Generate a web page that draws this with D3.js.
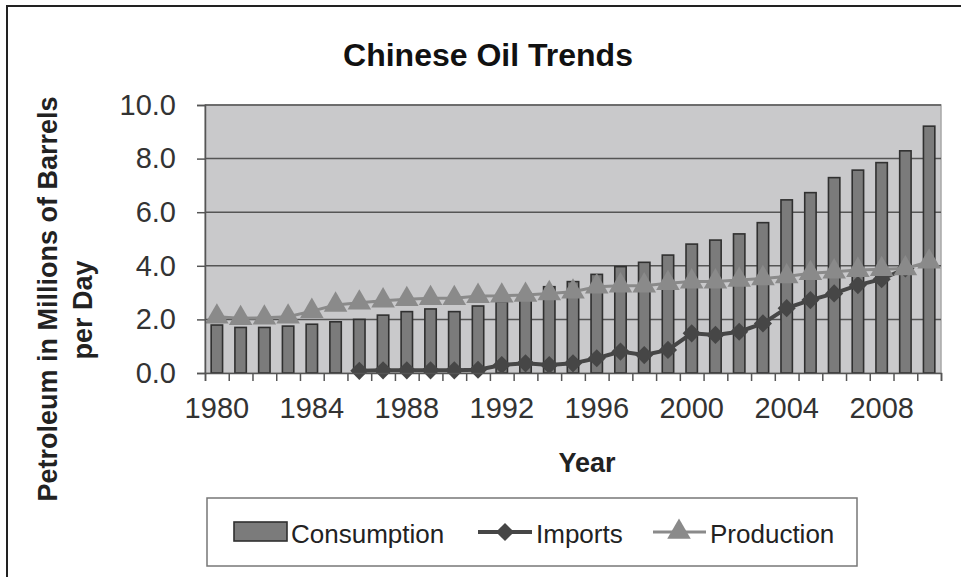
<!DOCTYPE html>
<html>
<head>
<meta charset="utf-8">
<script src="https://cdn.jsdelivr.net/npm/d3@7"></script>
<style>
body { margin: 0; background: #fff; }
text { font-family: "Liberation Sans", Arial, sans-serif; }
</style>
</head>
<body>
<div id="chartArea"></div>
<script>
// data (millions of barrels per day)
const years = d3.range(1980, 2011);
const consumption = [1.79, 1.70, 1.70, 1.75, 1.82, 1.91, 2.00, 2.16, 2.29, 2.39,
  2.29, 2.50, 2.66, 2.97, 3.22, 3.41, 3.68, 3.97, 4.13, 4.40,
  4.81, 4.96, 5.19, 5.61, 6.46, 6.73, 7.29, 7.57, 7.85, 8.29, 9.21];
const production = [2.10, 2.04, 2.06, 2.10, 2.31, 2.54, 2.62, 2.70, 2.75, 2.79,
  2.79, 2.87, 2.88, 2.91, 2.97, 3.03, 3.22, 3.26, 3.26, 3.35,
  3.41, 3.41, 3.47, 3.53, 3.60, 3.72, 3.78, 3.84, 3.87, 3.90, 4.15];
// imports start in 1986 and stop in 2009
const importYears = d3.range(1986, 2010);
const imports = [0.08, 0.10, 0.10, 0.10, 0.10, 0.12, 0.30, 0.36, 0.30, 0.36,
  0.55, 0.80, 0.67, 0.86, 1.48, 1.42, 1.54, 1.85, 2.42, 2.72,
  2.97, 3.28, 3.50, 3.90];
const yTicks = [0, 2, 4, 6, 8, 10];
const xLabelYears = [1980, 1984, 1988, 1992, 1996, 2000, 2004, 2008];

const W = 961, H = 577;
const plot = { left: 205, right: 941, top: 105, bottom: 373 };

const svg = d3.select("#chartArea")
  .append("svg")
  .attr("width", W)
  .attr("height", H);

// outer frame (top and left only)
svg.append("path")
  .attr("d", `M7,${H} V6 H${W}`)
  .attr("fill", "none")
  .attr("stroke", "#222")
  .attr("stroke-width", 2);

const x = d3.scaleBand()
  .domain(years)
  .range([plot.left, plot.right])
  .padding(0);

const xEdge = d3.scaleLinear()
  .domain([0, years.length])
  .range([plot.left, plot.right]);

const y = d3.scaleLinear()
  .domain([0, 10])
  .range([plot.bottom, plot.top]);

// plot background
svg.append("rect")
  .attr("x", plot.left)
  .attr("y", plot.top)
  .attr("width", plot.right - plot.left)
  .attr("height", plot.bottom - plot.top)
  .attr("fill", "#c9c9cb")
  .attr("stroke", "#a8a8a8")
  .attr("stroke-width", 1.5);

// gridlines
svg.append("g")
  .selectAll("line")
  .data(yTicks.filter(d => d > 0))
  .enter()
  .append("line")
  .attr("x1", plot.left)
  .attr("x2", plot.right)
  .attr("y1", d => y(d))
  .attr("y2", d => y(d))
  .attr("stroke", "#555")
  .attr("stroke-width", 1.5);

// consumption bars
const barW = x.bandwidth() * 0.48;
svg.append("g")
  .selectAll("rect")
  .data(years)
  .enter()
  .append("rect")
  .attr("x", (d) => x(d) + (x.bandwidth() - barW) / 2)
  .attr("y", (d, i) => y(consumption[i]))
  .attr("width", barW)
  .attr("height", (d, i) => y(0) - y(consumption[i]))
  .attr("fill", "#7b7b7b")
  .attr("stroke", "#303030")
  .attr("stroke-width", 1.6);

const cx = d => x(d) + x.bandwidth() / 2;
const diamond = d3.symbol().type(d3.symbolSquare).size(165);
const triangle = d3.symbol().type(d3.symbolTriangle).size(240);

// imports line
const impData = importYears.map((yr, i) => ({ yr, v: imports[i] }));
svg.append("path")
  .datum(impData)
  .attr("fill", "none")
  .attr("stroke", "#464646")
  .attr("stroke-width", 4)
  .attr("d", d3.line().x(d => cx(d.yr)).y(d => y(d.v)));

svg.append("g")
  .selectAll("path")
  .data(impData)
  .enter()
  .append("path")
  .attr("transform", d => `translate(${cx(d.yr)},${y(d.v)}) rotate(45)`)
  .attr("d", diamond)
  .attr("fill", "#464646");

// production line
const prodData = years.map((yr, i) => ({ yr, v: production[i] }));
svg.append("path")
  .datum(prodData)
  .attr("fill", "none")
  .attr("stroke", "#8a8a8a")
  .attr("stroke-width", 3)
  .attr("d", d3.line().x(d => cx(d.yr)).y(d => y(d.v)));

svg.append("g")
  .selectAll("path")
  .data(prodData)
  .enter()
  .append("path")
  .attr("transform", d => `translate(${cx(d.yr)},${y(d.v)})`)
  .attr("d", triangle)
  .attr("fill", "#8a8a8a");

// axes
const yAxis = svg.append("g")
  .attr("transform", `translate(${plot.left},0)`)
  .call(d3.axisLeft(y).tickValues(yTicks).tickFormat(d3.format(".1f")).tickSize(8).tickPadding(21));
yAxis.select(".domain").attr("stroke", "#555").attr("stroke-width", 1.5);
yAxis.selectAll(".tick line").attr("stroke", "#555").attr("stroke-width", 1.5);
yAxis.selectAll("text").style("font-size", "29px").attr("fill", "#333");

const xTicks = svg.append("g")
  .attr("transform", `translate(0,${plot.bottom})`)
  .call(d3.axisBottom(xEdge).tickValues(d3.range(years.length + 1)).tickFormat("").tickSize(8));
xTicks.select(".domain").attr("stroke", "#555").attr("stroke-width", 1.5);
xTicks.selectAll(".tick line").attr("stroke", "#555").attr("stroke-width", 1.5);

const xLabels = svg.append("g")
  .attr("transform", `translate(0,${plot.bottom})`)
  .call(d3.axisBottom(x).tickValues(xLabelYears).tickSize(0).tickPadding(24));
xLabels.select(".domain").remove();
xLabels.selectAll("text").style("font-size", "29px").attr("fill", "#333");

// titles
svg.append("text")
  .attr("x", 488)
  .attr("y", 66)
  .attr("text-anchor", "middle")
  .style("font-size", "32px")
  .style("font-weight", "bold")
  .attr("fill", "#111")
  .text("Chinese Oil Trends");

svg.append("text")
  .attr("x", 587)
  .attr("y", 472)
  .attr("text-anchor", "middle")
  .style("font-size", "27px")
  .style("font-weight", "bold")
  .attr("fill", "#222")
  .text("Year");

const yTitle = svg.append("text")
  .attr("text-anchor", "middle")
  .attr("transform", "rotate(-90)")
  .style("font-size", "27px")
  .style("font-weight", "bold")
  .attr("fill", "#222");
yTitle.append("tspan").attr("x", -299).attr("y", 57).text("Petroleum in Millions of Barrels");
yTitle.append("tspan").attr("x", -310).attr("y", 92).text("per Day");

// legend
const legend = svg.append("g");
legend.append("rect")
  .attr("x", 207).attr("y", 498)
  .attr("width", 650).attr("height", 68)
  .attr("fill", "#fff")
  .attr("stroke", "#777")
  .attr("stroke-width", 1.5);

legend.append("rect")
  .attr("x", 234).attr("y", 522)
  .attr("width", 53).attr("height", 19)
  .attr("fill", "#7b7b7b")
  .attr("stroke", "#303030")
  .attr("stroke-width", 1.6);
legend.append("text").attr("x", 291).attr("y", 543)
  .style("font-size", "26px").attr("fill", "#222").text("Consumption");

legend.append("line")
  .attr("x1", 478).attr("x2", 532).attr("y1", 532).attr("y2", 532)
  .attr("stroke", "#464646").attr("stroke-width", 4);
legend.append("path")
  .attr("transform", "translate(505,532) rotate(45)")
  .attr("d", diamond)
  .attr("fill", "#464646");
legend.append("text").attr("x", 536).attr("y", 543)
  .style("font-size", "26px").attr("fill", "#222").text("Imports");

legend.append("line")
  .attr("x1", 653).attr("x2", 706).attr("y1", 532).attr("y2", 532)
  .attr("stroke", "#8a8a8a").attr("stroke-width", 3);
legend.append("path")
  .attr("transform", "translate(679,532)")
  .attr("d", triangle)
  .attr("fill", "#8a8a8a");
legend.append("text").attr("x", 710).attr("y", 543)
  .style("font-size", "26px").attr("fill", "#222").text("Production");
</script>
</body>
</html>
